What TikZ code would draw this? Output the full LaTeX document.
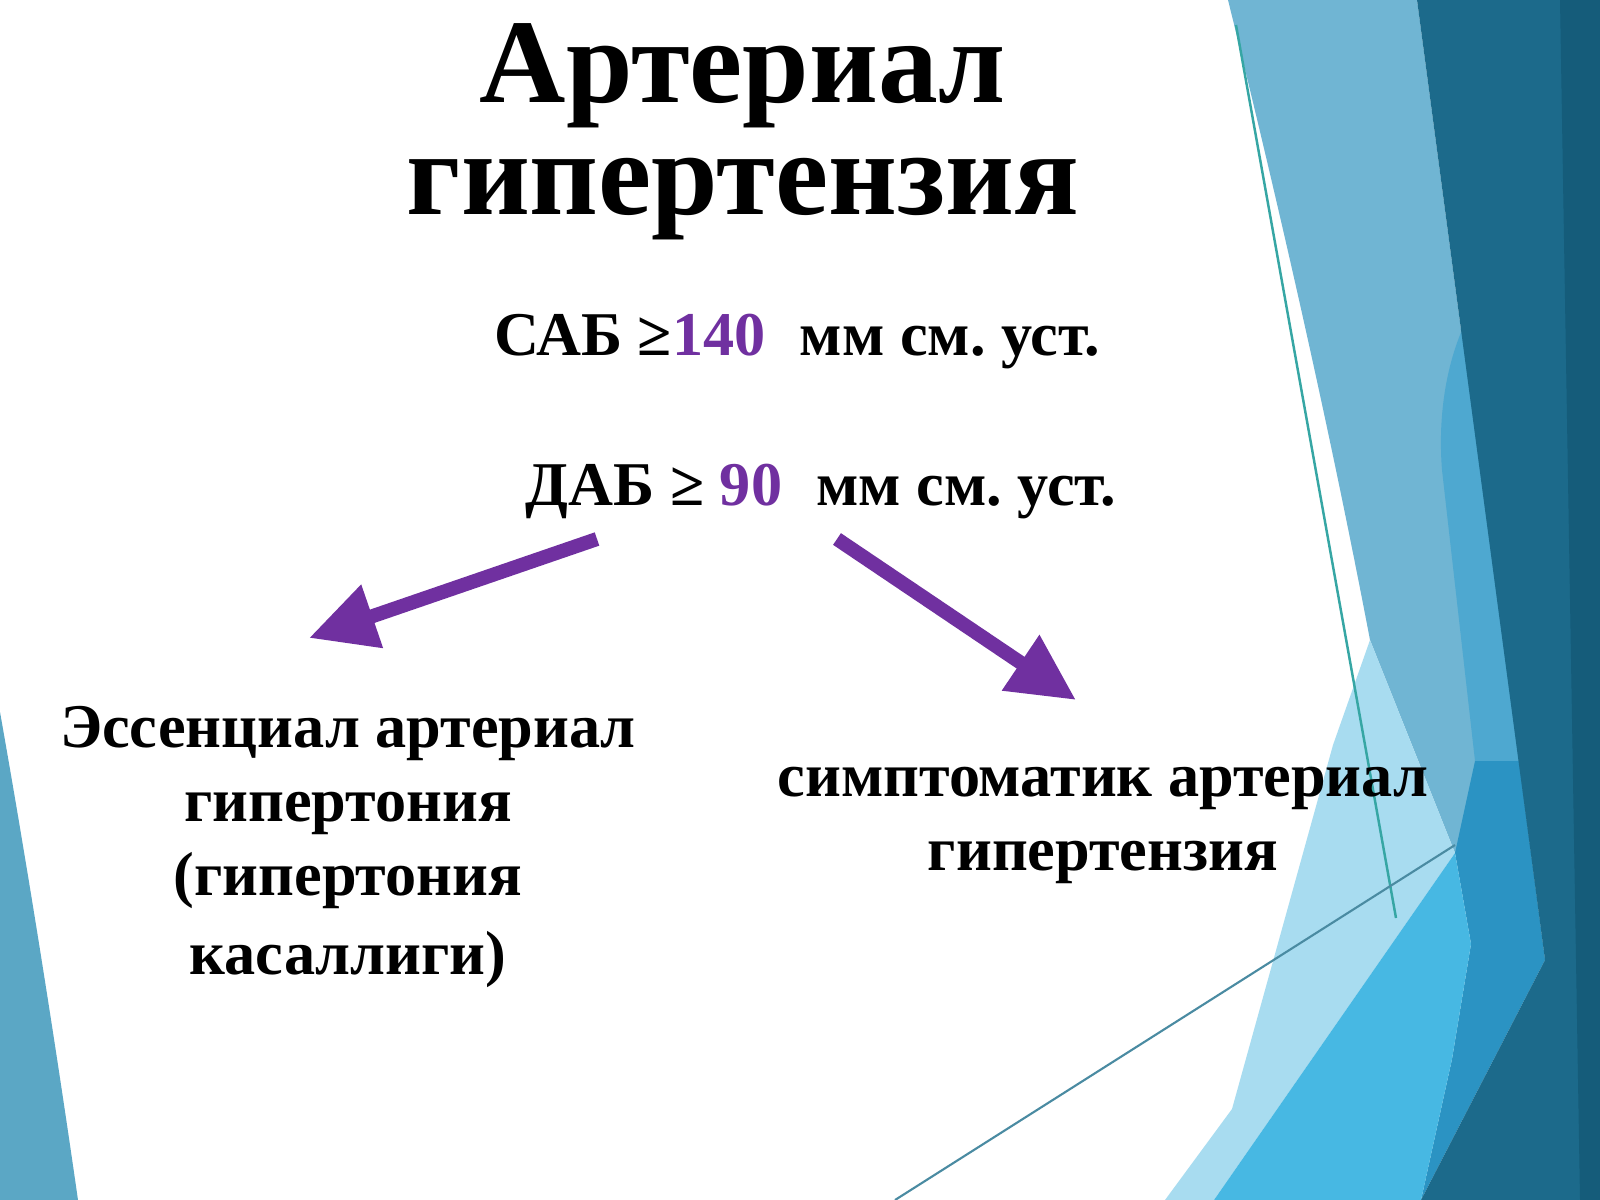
\documentclass[tikz,border=0pt]{standalone}
\usepackage{fontspec}
\setmainfont{Liberation Serif}
\usetikzlibrary{arrows.meta}
\definecolor{purp}{HTML}{7030A0}
\definecolor{lband}{HTML}{70B5D3}
\definecolor{midw}{HTML}{4EA8D0}
\definecolor{midb}{HTML}{2B93C3}
\definecolor{pale}{HTML}{A8DCF0}
\definecolor{bright}{HTML}{47B8E3}
\definecolor{darkt}{HTML}{1C6A8B}
\definecolor{darker}{HTML}{155C7A}
\definecolor{lefttri}{HTML}{5BA7C5}
\definecolor{thinv}{HTML}{36A6A4}
\definecolor{thind}{HTML}{4A8BA2}
\frenchspacing
\tikzset{
  titletext/.style={font=\fontsize{34}{40}\selectfont\bfseries, anchor=base, inner sep=0pt},
  bodytext/.style={font=\fontsize{17.7}{21}\selectfont\bfseries, anchor=base, inner sep=0pt},
  purparrow/.style={draw=purp, line width=4pt, -{Triangle[length=19pt,width=18pt]}, fill=purp}
}
\begin{document}
\begin{tikzpicture}[x=0.01cm,y=-0.01cm]
\useasboundingbox (0,0) rectangle (1600,1200);
\fill[white] (0,0) rectangle (1600,1200);
% background shapes
\fill[lefttri] (0,712) .. controls (28,870) and (55,1040) .. (78,1200) -- (0,1200) -- cycle;
\fill[lband] (1228,0) -- (1417,0) -- (1545,960) -- (1455,853) -- (1370,640) .. controls (1330,430) and (1280,210) .. (1228,0) -- cycle;
\fill[midw] (1462,330) .. controls (1445,370) and (1438,420) .. (1442,470) -- (1475,761) -- (1519,761) -- cycle;
\fill[midb] (1475,761) -- (1519,761) -- (1545,960) -- (1421,1200) -- (1452,1059) -- (1471,944) -- (1455,853) -- cycle;
\fill[pale] (1370,640) -- (1455,853) -- (1214,1200) -- (1165,1200) -- (1232,1109) -- (1333,745) -- cycle;
\fill[bright] (1455,853) -- (1471,944) -- (1452,1059) -- (1421,1200) -- (1214,1200) -- cycle;
\fill[darkt] (1417,0) -- (1600,0) -- (1600,1200) -- (1421,1200) -- (1545,960) -- cycle;
\fill[darker] (1560,0) -- (1600,0) -- (1600,1200) -- (1580,1200) -- cycle;
\draw[thinv, line width=0.7pt] (1236,25) -- (1396,918);
\draw[thind, line width=0.6pt] (895,1200) -- (1455,845);
% title
\node[titletext] (t1) at (743,102) {Артериал};
\node[titletext] (t2) at (743,214) {гипертензия};
% criteria
\node[bodytext] (sab) at (797,355) {САБ ≥\textcolor{purp}{140}\hspace{0.55em}мм см. уст.};
\node[bodytext] (dab) at (821,505) {ДАБ ≥ \textcolor{purp}{90}\hspace{0.55em}мм см. уст.};
% left block
\node[bodytext] (l1) at (348,747) {Эссенциал артериал};
\node[bodytext] (l2) at (348,821) {гипертония};
\node[bodytext] (l3) at (348,895) {(гипертония};
\node[bodytext] (l4) at (348,974) {касаллиги)};
% right block
\node[bodytext] (r1) at (1103,796) {симптоматик артериал};
\node[bodytext] (r2) at (1103,870) {гипертензия};
% arrows
\coordinate (la) at (597,539);
\coordinate (lb) at (309,638);
\coordinate (ra) at (837,539);
\coordinate (rb) at (1076,700);
\draw[purparrow] (la) -- (lb);
\draw[purparrow] (ra) -- (rb);
\end{tikzpicture}
\end{document}
